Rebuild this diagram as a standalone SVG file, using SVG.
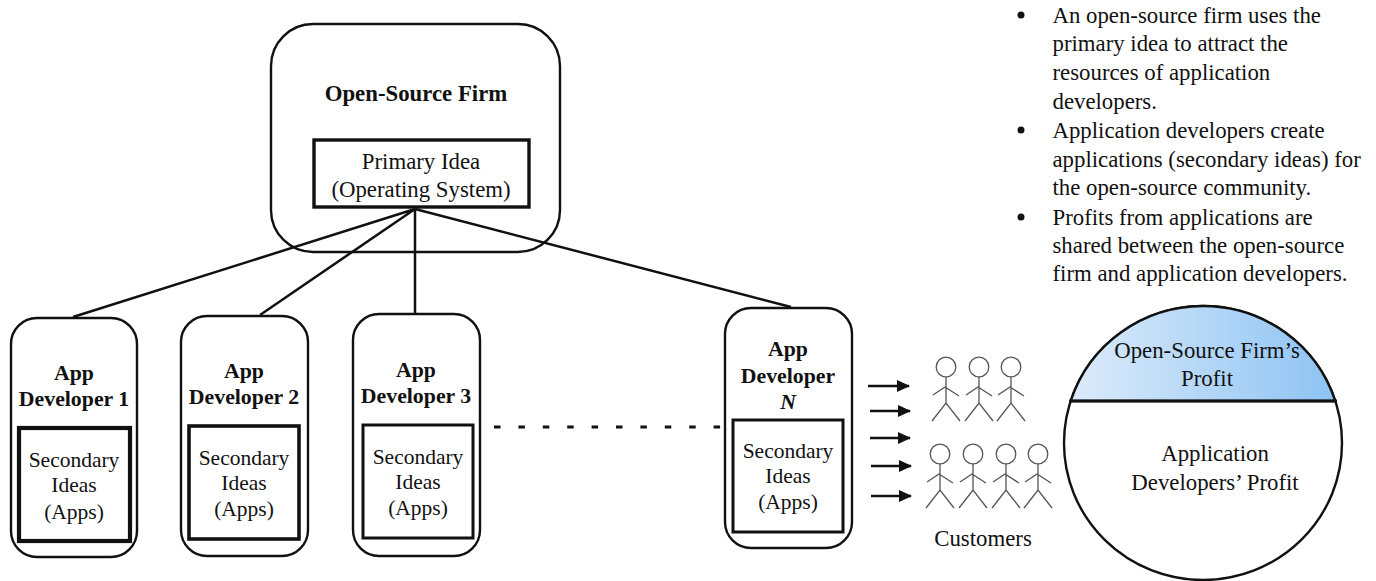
<svg xmlns="http://www.w3.org/2000/svg" width="1376" height="581" viewBox="0 0 1376 581">
<style>
text{font-family:"Liberation Serif","Times New Roman",serif;fill:#111;font-size:21.5px}
.m{text-anchor:middle}
.b{font-weight:bold;font-size:21.8px}
.h{font-weight:bold;font-size:22.8px}
.l{font-size:22.8px}
.o{fill:#fff;stroke:#111;stroke-width:2.4}
.i{fill:#fff;stroke:#111;stroke-width:3}
.t{fill:#fff;stroke:#111;stroke-width:4.2}
.c{stroke:#111;stroke-width:2.5;fill:none}
.d{stroke:#111;stroke-width:3;fill:none;stroke-dasharray:6.5 17.9}
.p{stroke:#555;stroke-width:1.3;fill:none}
.a{stroke:#111;stroke-width:2.4;fill:none;marker-end:url(#ah)}
</style>
<defs>
<marker id="ah" markerUnits="userSpaceOnUse" markerWidth="13" markerHeight="13" refX="12" refY="6" orient="auto"><path d="M0 0L13 6L0 12Z" fill="#111"/></marker>
<linearGradient id="g" x1="0" y1="0" x2="1" y2="0"><stop offset="0" stop-color="#dcebfb"/><stop offset="1" stop-color="#8dc3f3"/></linearGradient>
<g id="person" class="p"><circle cx="0" cy="0" r="9.8"/><path d="M0 10V36M-13 28L-1 20L13 29M-14 54L0 36L14 54"/></g>
</defs>
<g id="firm">
<rect class="o" x="271" y="24" width="289" height="228" rx="42"/>
<text class="m h" x="416" y="100.500">Open-Source Firm</text>
<rect class="i" x="314" y="140" width="215" height="67" style="stroke-width:3.4"/>
<text class="m l" x="421" y="168.500">Primary Idea</text>
<text class="m l" x="421" y="196.500">(Operating System)</text>
</g>
<g id="dev1">
<rect class="o" x="11" y="318" width="126" height="239" rx="26"/>
<text class="m b" x="74" y="379.500">App</text><text class="m b" x="74" y="406">Developer 1</text>
<rect class="t" x="19" y="428" width="111" height="113"/>
<text class="m" x="74" y="467">Secondary</text><text class="m" x="74" y="492">Ideas</text><text class="m" x="74" y="519">(Apps)</text>
</g>
<g id="dev2">
<rect class="o" x="181" y="316" width="127" height="240" rx="26"/>
<text class="m b" x="244" y="377.500">App</text><text class="m b" x="244" y="404">Developer 2</text>
<rect class="i" x="189" y="426" width="110" height="113" style="stroke-width:3.6"/>
<text class="m" x="244" y="465">Secondary</text><text class="m" x="244" y="490">Ideas</text><text class="m" x="244" y="516">(Apps)</text>
</g>
<g id="dev3">
<rect class="o" x="353" y="314" width="127" height="242" rx="26"/>
<text class="m b" x="416" y="376.500">App</text><text class="m b" x="416" y="403">Developer 3</text>
<rect class="i" x="363" y="425" width="110" height="113"/>
<text class="m" x="418" y="464">Secondary</text><text class="m" x="418" y="489">Ideas</text><text class="m" x="418" y="515">(Apps)</text>
</g>
<g id="devN">
<rect class="o" x="725" y="308" width="127" height="240" rx="26"/>
<text class="m b" x="788" y="356">App</text><text class="m b" x="788" y="383">Developer</text><text class="m b" x="788" y="409" font-style="italic">N</text>
<rect class="i" x="733" y="420" width="110" height="112"/>
<text class="m" x="788" y="458">Secondary</text><text class="m" x="788" y="483">Ideas</text><text class="m" x="788" y="509">(Apps)</text>
</g>
<g id="connectors">
<path class="c" d="M415 209L73 317M415 209L260 315M415 209V313M415 209L791 307"/>
<path class="d" d="M494 427H724"/>
<path class="a" d="M868 386H909"/><path class="a" d="M870 411H910"/><path class="a" d="M870 438H910"/><path class="a" d="M871 466H911"/><path class="a" d="M871 496H911"/>
</g>
<g id="customers">
<use href="#person" x="946" y="367"/><use href="#person" x="979" y="367"/><use href="#person" x="1011" y="367"/>
<use href="#person" x="940" y="454"/><use href="#person" x="973" y="454"/><use href="#person" x="1006" y="454"/><use href="#person" x="1038" y="454"/>
<text class="m l" x="983" y="546">Customers</text>
</g>
<g id="profit">
<ellipse cx="1203" cy="443" rx="139" ry="137" fill="#fff" stroke="#111" stroke-width="2.4"/>
<path d="M1070.700 401A139 137 0 0 1 1335.300 401Z" fill="url(#g)" stroke="#111" stroke-width="2.4"/>
<path d="M1069 401H1337" stroke="#111" stroke-width="3.2"/>
<text class="m l" x="1207" y="357.500">Open-Source Firm’s</text><text class="m l" x="1207" y="385.500">Profit</text>
<text class="m l" x="1215" y="460.500">Application</text><text class="m l" x="1215" y="489.500">Developers’ Profit</text>
</g>
<g id="notes">
<circle cx="1021" cy="15" r="3.5" fill="#111"/><circle cx="1021" cy="130" r="3.5" fill="#111"/><circle cx="1021" cy="217" r="3.5" fill="#111"/>
<text class="l" x="1052.500" y="23">An open-source firm uses the</text>
<text class="l" x="1052.500" y="51">primary idea to attract the</text>
<text class="l" x="1052.500" y="80">resources of application</text>
<text class="l" x="1052.500" y="109">developers.</text>
<text class="l" x="1052.500" y="138">Application developers create</text>
<text class="l" x="1052.500" y="167">applications (secondary ideas) for</text>
<text class="l" x="1052.500" y="195">the open-source community.</text>
<text class="l" x="1052.500" y="225">Profits from applications are</text>
<text class="l" x="1052.500" y="253">shared between the open-source</text>
<text class="l" x="1052.500" y="281">firm and application developers.</text>
</g>
</svg>
